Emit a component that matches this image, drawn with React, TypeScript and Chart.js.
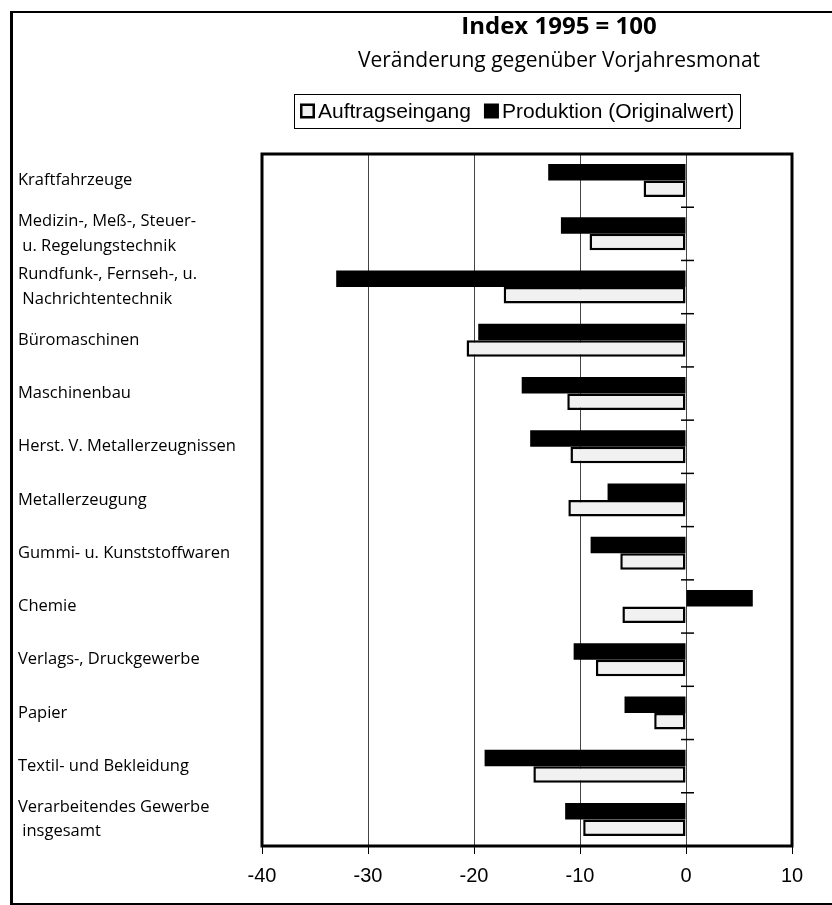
import React, { useEffect, useRef } from "react";
import { Chart, registerables } from "chart.js";

Chart.register(...registerables);

const categories: (string | string[])[] = [
  "Kraftfahrzeuge",
  ["Medizin-, Meß-, Steuer-", " u. Regelungstechnik"],
  ["Rundfunk-, Fernseh-, u.", " Nachrichtentechnik"],
  "Büromaschinen",
  "Maschinenbau",
  "Herst. V. Metallerzeugnissen",
  "Metallerzeugung",
  "Gummi- u. Kunststoffwaren",
  "Chemie",
  "Verlags-, Druckgewerbe",
  "Papier",
  "Textil- und Bekleidung",
  ["Verarbeitendes Gewerbe", " insgesamt"],
];

const produktion: number[] = [-13.0, -11.8, -33.0, -19.6, -15.5, -14.7, -7.4, -9.0, 6.3, -10.6, -5.8, -19.0, -11.4];
const auftragseingang: number[] = [-4.0, -9.1, -17.2, -20.7, -11.2, -10.9, -11.1, -6.2, -6.0, -8.5, -3.0, -14.4, -9.7];

const seriesNames: string[] = ["Produktion (Originalwert)", "Auftragseingang"];

const xMin = -40;
const xMax = 10;
const xStep = 10;

const titleText = "Index 1995 = 100";
const subtitleText = "Veränderung gegenüber Vorjahresmonat";

const AUF_FILL = "#f1f1f1";
const PROD_FILL = "#000000";

const headerPlugin = {
  id: "header",
  afterDraw(chart: any) {
    const ctx = chart.ctx;
    ctx.save();
    ctx.fillStyle = "#000";
    ctx.textBaseline = "middle";
    ctx.textAlign = "center";
    const cx = 559;
    ctx.font = "bold 24px 'Open Sans', sans-serif";
    ctx.fillText(titleText, cx, 27);
    ctx.font = "21px 'Open Sans', sans-serif";
    ctx.fillText(subtitleText, cx, 61);

    // legend (order: Auftragseingang, Produktion)
    ctx.font = "21px 'Liberation Sans', Arial, sans-serif";
    ctx.textAlign = "left";
    const items = [
      { text: seriesNames[1], fill: AUF_FILL, border: true },
      { text: seriesNames[0], fill: PROD_FILL, border: false },
    ];
    const sq = 15;
    const gapText = 3;
    const gapItem = 13;
    const padX = 5;
    let total = 0;
    items.forEach((it, i) => {
      total += sq + gapText + ctx.measureText(it.text).width;
      if (i < items.length - 1) total += gapItem;
    });
    const boxW = total + padX * 2 + 2;
    const legendCx = 517;
    const boxL = Math.round(legendCx - boxW / 2);
    const cy = 111;
    ctx.strokeStyle = "#000";
    ctx.lineWidth = 1;
    ctx.strokeRect(boxL + 0.5, 94.5, Math.round(boxW), 34);
    let x = boxL + padX + 1;
    items.forEach((it) => {
      ctx.fillStyle = it.fill;
      ctx.fillRect(x, cy - sq / 2, sq, sq);
      if (it.border) {
        ctx.lineWidth = 2.5;
        ctx.strokeRect(x + 1.25, cy - sq / 2 + 1.25, sq - 2.5, sq - 2.5);
      }
      x += sq + gapText;
      ctx.fillStyle = "#000";
      ctx.fillText(it.text, x, cy + 1);
      x += ctx.measureText(it.text).width + gapItem;
    });
    ctx.restore();
  },
};

const framePlugin = {
  id: "frameAndTicks",
  afterDatasetsDraw(chart: any) {
    const { ctx, chartArea: a, scales } = chart;
    const xs = scales.x;
    const ys = scales.y;
    ctx.save();
    ctx.strokeStyle = "#000";
    ctx.lineWidth = 1.5;
    const x0 = xs.getPixelForValue(0);
    for (let i = 1; i < categories.length; i++) {
      const yb = (ys.getPixelForValue(i - 1) + ys.getPixelForValue(i)) / 2;
      ctx.beginPath();
      ctx.moveTo(x0 - 5, yb);
      ctx.lineTo(x0 + 8, yb);
      ctx.stroke();
    }
    ctx.lineWidth = 3;
    ctx.strokeRect(a.left, a.top, a.right - a.left, a.bottom - a.top);
    ctx.restore();
  },
};

export default function App() {
  const ref = useRef<HTMLCanvasElement | null>(null);

  useEffect(() => {
    document.body.style.margin = "0";
    const canvas = ref.current;
    if (!canvas) return;
    const chart = new Chart(canvas, {
      type: "bar",
      data: {
        labels: categories,
        datasets: [
          {
            label: seriesNames[0],
            data: produktion,
            backgroundColor: PROD_FILL,
            borderColor: "#000000",
            borderWidth: 0,
            borderSkipped: false,
          },
          {
            label: seriesNames[1],
            data: auftragseingang,
            backgroundColor: AUF_FILL,
            borderColor: "#000000",
            borderWidth: 2.5,
            borderSkipped: false,
          },
        ],
      },
      options: {
        indexAxis: "y",
        responsive: false,
        animation: false,
        events: [],
        layout: { padding: { left: 18, right: 40, top: 154, bottom: 0 } },
        datasets: {
          bar: { categoryPercentage: 0.62, barPercentage: 1.0 },
        },
        plugins: {
          tooltip: { enabled: false },
          legend: { display: false },
          title: { display: false },
        },
        scales: {
          x: {
            type: "linear",
            min: xMin,
            max: xMax,
            ticks: {
              stepSize: xStep,
              color: "#000",
              font: { family: "'Liberation Sans', Arial, sans-serif", size: 20 },
              padding: 10,
            },
            grid: {
              color: "#444",
              lineWidth: 1,
              tickLength: 8,
              tickColor: "#000",
            },
            border: { display: false },
            afterFit(scale: any) {
              scale.height = 59;
            },
          },
          y: {
            type: "category",
            ticks: {
              color: "#000",
              crossAlign: "far",
              font: { family: "'Open Sans', sans-serif", size: 16.5, lineHeight: 1.5 },
              autoSkip: false,
            },
            grid: { display: false, drawTicks: false },
            border: { display: false },
            afterFit(scale: any) {
              scale.width = 244;
            },
          },
        },
      },
      plugins: [framePlugin, headerPlugin],
    } as any);
    return () => chart.destroy();
  }, []);

  return (
    <div style={{ position: "absolute", left: 0, top: 0, width: 832, height: 905, background: "#fff", overflow: "hidden" }}>
      <div
        style={{
          position: "absolute",
          left: 10,
          top: 11,
          width: 830,
          height: 890,
          borderLeft: "3px solid #000",
          borderTop: "2px solid #000",
          borderBottom: "2px solid #000",
        }}
      />
      <canvas ref={ref} width={832} height={905} style={{ position: "absolute", left: 0, top: 0, display: "block" }} />
    </div>
  );
}
